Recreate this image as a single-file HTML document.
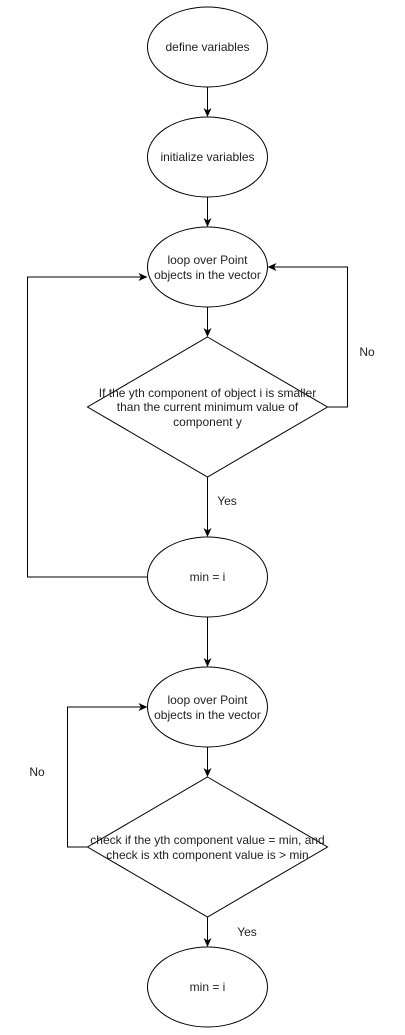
<!DOCTYPE html>
<html><head><style>body{margin:0;background:#fff}svg{display:block}text{font-family:"Liberation Sans",Arial,sans-serif;font-size:12px;fill:#222;text-anchor:middle}</style></head>
<body>
<svg width="405" height="1035" viewBox="0 0 405 1035">
<defs><marker id="a" markerWidth="10" markerHeight="10" refX="8" refY="5" orient="auto" markerUnits="userSpaceOnUse"><path d="M0,1 L9,5 L0,9 L2.5,5 Z" fill="#000"/></marker></defs>
<g fill="#fff" stroke="#000" stroke-width="1">
<ellipse cx="207.5" cy="47" rx="60" ry="40"/>
<ellipse cx="207.5" cy="157" rx="60" ry="40"/>
<ellipse cx="207.5" cy="267" rx="60" ry="40"/>
<polygon points="207.5,337 327.5,407 207.5,477 87.5,407"/>
<ellipse cx="207.5" cy="577" rx="60" ry="40"/>
<ellipse cx="207.5" cy="707" rx="60" ry="40"/>
<polygon points="207.5,777 327.5,847 207.5,917 87.5,847"/>
<ellipse cx="207.5" cy="987" rx="60" ry="40"/>
</g>
<g fill="none" stroke="#000" stroke-width="1" marker-end="url(#a)">
<path d="M207.5,87 V116"/>
<path d="M207.5,197 V226"/>
<path d="M207.5,307 V336"/>
<path d="M207.5,477 V536"/>
<path d="M327.5,407 H347.5 V267 H268.5"/>
<path d="M147.5,577 H27.5 V277 H146.5"/>
<path d="M207.5,617 V666"/>
<path d="M207.5,747 V776"/>
<path d="M87.5,847 H67.5 V707 H146.5"/>
<path d="M207.5,917 V946"/>
</g>
<text x="207.5" y="51">define variables</text>
<text x="207.5" y="161">initialize variables</text>
<text x="207.5" y="264">loop over Point</text>
<text x="207.5" y="279">objects in the vector</text>
<text x="207.5" y="397">If the yth component of object i is smaller</text>
<text x="207.5" y="411">than the current minimum value of</text>
<text x="207.5" y="426">component y</text>
<text x="367" y="356">No</text>
<text x="227" y="505">Yes</text>
<text x="207.5" y="581">min = i</text>
<text x="207.5" y="704">loop over Point</text>
<text x="207.5" y="719">objects in the vector</text>
<text x="207.5" y="844">check if the yth component value = min, and</text>
<text x="207.5" y="859">check is xth component value is &gt; min</text>
<text x="37" y="776">No</text>
<text x="247" y="936">Yes</text>
<text x="207.5" y="991">min = i</text>
</svg>
</body></html>
